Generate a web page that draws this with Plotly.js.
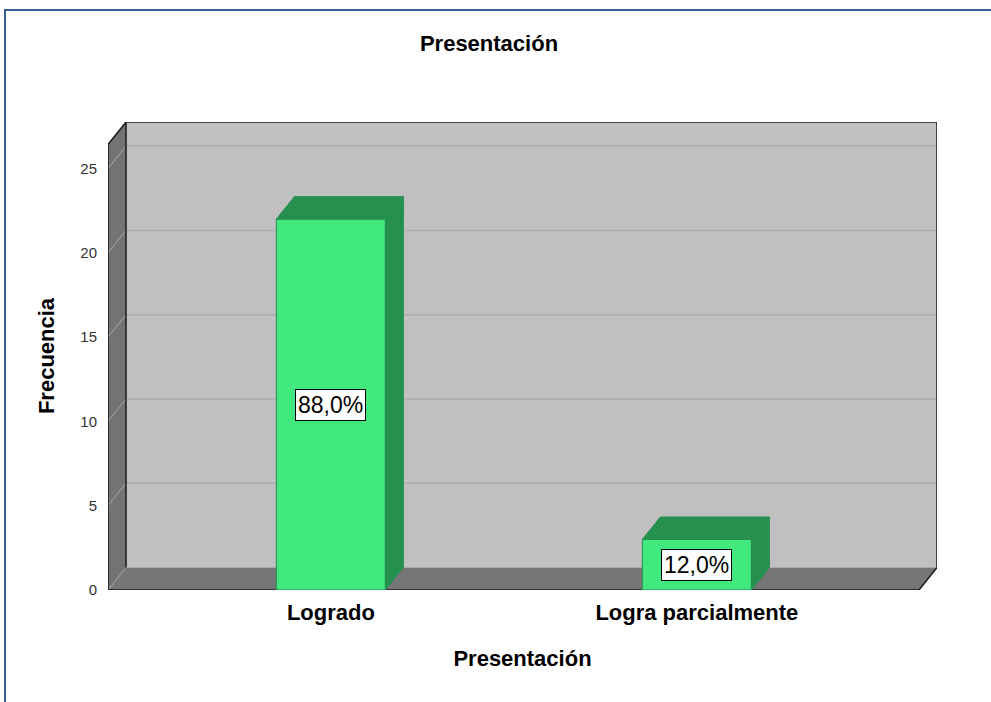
<!DOCTYPE html>
<html>
<head>
<meta charset="utf-8">
<script src="https://cdn.plot.ly/plotly-3.0.1.min.js"></script>
<style>
  html, body { margin: 0; padding: 0; background: #ffffff; }
  #wrap { position: relative; width: 991px; height: 702px; }
  #chart { position: absolute; left: 0; top: 0; width: 991px; height: 702px; }
  #frame { position: absolute; left: 4px; top: 9px; width: 990px; height: 700px;
           border-top: 2px solid #3a5f95; border-left: 2px solid #3a5f95; pointer-events: none; }
</style>
</head>
<body>
<div id="wrap">
  <div id="chart"></div>
  <div id="frame"></div>
</div>
<script>
// ---- data ----
const categories = ['Logrado', 'Logra parcialmente'];
const frequencies = [22, 3];
const yTickValues = [0, 5, 10, 15, 20, 25];
const chartTitle = 'Presentación';
const xTitle = 'Presentación';
const yTitle = 'Frecuencia';

// ---- style / geometry (axis units) ----
const X0 = -0.609;      // front-left edge (y axis)
const XF = 1.607;       // front-right end of floor
const DX = 0.0492;      // depth offset in x
const DY = 1.33;        // depth offset in y
const YTOP = 27.76;     // top of back wall
const BARW = 0.298;
const FRONT = '#40e87d', DARK = '#26914f', EDGE = '#2a8f52';

const total = frequencies.reduce((a, b) => a + b, 0);
const xs = categories.map((c, i) => i);

const traces = [];
traces.push({
  type: 'bar', x: xs, y: frequencies, width: BARW,
  marker: { color: FRONT, line: { color: EDGE, width: 1 } },
  hoverinfo: 'skip', showlegend: false
});
frequencies.forEach((v, i) => {
  const a = i - BARW / 2, b = i + BARW / 2;
  // top face
  traces.push({
    type: 'scatter', mode: 'lines', fill: 'toself', fillcolor: DARK,
    x: [a, b, b + DX, a + DX, a], y: [v, v, v + DY, v + DY, v],
    line: { color: EDGE, width: 1 }, hoverinfo: 'skip', showlegend: false, cliponaxis: false
  });
  // side face
  traces.push({
    type: 'scatter', mode: 'lines', fill: 'toself', fillcolor: DARK,
    x: [b, b, b + DX, b + DX, b], y: [0, v, v + DY, DY, 0],
    line: { color: EDGE, width: 1 }, hoverinfo: 'skip', showlegend: false, cliponaxis: false
  });
});

const shapes = [];
// back wall
shapes.push({ type: 'rect', layer: 'below', xref: 'x', yref: 'y',
  x0: X0 + DX, x1: XF + DX, y0: DY, y1: YTOP, fillcolor: '#c0c0c0', line: { width: 0 } });
// side wall
shapes.push({ type: 'path', layer: 'below', xref: 'x', yref: 'y',
  path: `M ${X0},0 L ${X0},${YTOP - DY} L ${X0 + DX},${YTOP} L ${X0 + DX},${DY} Z`,
  fillcolor: '#737373', line: { width: 0 } });
// floor
shapes.push({ type: 'path', layer: 'below', xref: 'x', yref: 'y',
  path: `M ${X0},0 L ${XF},0 L ${XF + DX},${DY} L ${X0 + DX},${DY} Z`,
  fillcolor: '#767676', line: { width: 0 } });
// grid lines
yTickValues.forEach(v => {
  if (v > 0) {
    shapes.push({ type: 'line', layer: 'below', xref: 'x', yref: 'y',
      x0: X0 + DX, x1: XF + DX, y0: v + DY, y1: v + DY, line: { color: '#adadad', width: 1.5 } });
  }
  shapes.push({ type: 'line', layer: 'below', xref: 'x', yref: 'y',
    x0: X0, x1: X0 + DX, y0: v, y1: v + DY, line: { color: '#a8a8a8', width: 1 } });
});
// outlines
shapes.push({ type: 'path', layer: 'below', xref: 'x', yref: 'y',
  path: `M ${X0},0 L ${X0},${YTOP - DY} L ${X0 + DX},${YTOP} L ${XF + DX},${YTOP} L ${XF + DX},${DY} L ${XF},0 Z`,
  line: { color: '#1a1a1a', width: 1.5 } });
shapes.push({ type: 'line', layer: 'below', xref: 'x', yref: 'y',
  x0: X0 + DX, x1: X0 + DX, y0: DY, y1: YTOP, line: { color: '#1a1a1a', width: 1.5 } });

const annotations = frequencies.map((v, i) => ({
  x: i, y: v / 2, xref: 'x', yref: 'y', showarrow: false,
  text: (v / total * 100).toFixed(1).replace('.', ',') + '%',
  font: { family: 'Liberation Sans, Arial, sans-serif', size: 23, color: '#000000' },
  bgcolor: '#ffffff', bordercolor: '#000000', borderwidth: 1, borderpad: 2
}));

const layout = {
  width: 991, height: 702,
  margin: { l: 108, r: 54, t: 122, b: 112 },
  paper_bgcolor: '#ffffff', plot_bgcolor: 'rgba(0,0,0,0)',
  showlegend: false,
  font: { family: 'Liberation Sans, Arial, sans-serif', color: '#000000' },
  title: { text: '<b>' + chartTitle + '</b>', x: 489 / 991, xanchor: 'center',
    y: 1 - 43 / 702, yanchor: 'middle', font: { size: 22, color: '#000000' } },
  xaxis: {
    range: [X0, XF + DX], tickvals: xs, ticktext: categories.map(c => '<b>' + c + '</b>'),
    showgrid: false, zeroline: false, showline: false, ticks: '', ticklabelstandoff: 7,
    tickfont: { size: 22, color: '#000000' }, automargin: false,
    title: { text: '<b>' + xTitle + '</b>', font: { size: 22, color: '#000000' }, standoff: 26 }
  },
  yaxis: {
    range: [0, YTOP], tickvals: yTickValues,
    showgrid: false, zeroline: false, showline: false, ticks: '', ticklabelstandoff: 10,
    tickfont: { size: 15, color: '#333333' }, automargin: false,
    title: { text: '<b>' + yTitle + '</b>', font: { size: 22, color: '#000000' }, standoff: 19 }
  },
  shapes: shapes,
  annotations: annotations
};

Plotly.newPlot('chart', traces, layout, { displayModeBar: false, staticPlot: true });
</script>
</body>
</html>
